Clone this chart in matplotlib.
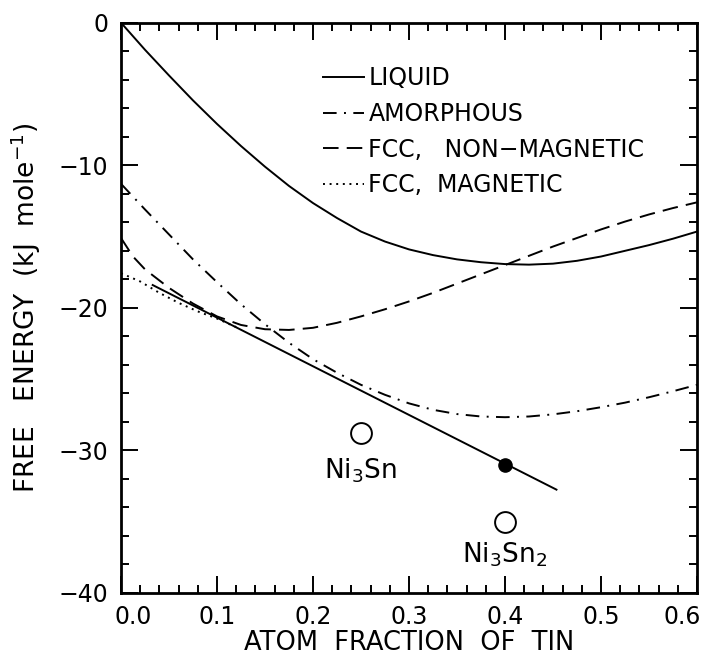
import matplotlib
matplotlib.use("Agg")
import matplotlib.pyplot as plt
from matplotlib.ticker import MultipleLocator
import matplotlib.transforms as mtransforms

plt.rcParams['font.family'] = ['DejaVu Sans']
plt.rcParams['mathtext.fontset'] = 'dejavusans'
plt.rcParams['mathtext.default'] = 'regular'

# ---- data ----
liquid_x = [0.0, 0.025, 0.05, 0.075, 0.1, 0.125, 0.15, 0.175, 0.2, 0.225, 0.25, 0.275, 0.3,
            0.325, 0.35, 0.375, 0.4, 0.425, 0.45, 0.475, 0.5, 0.525, 0.55, 0.575, 0.6]
liquid_y = [0.0, -1.9, -3.7, -5.45, -7.1, -8.65, -10.1, -11.45, -12.65, -13.7, -14.65, -15.35, -15.9,
            -16.3, -16.6, -16.8, -16.93, -16.97, -16.9, -16.7, -16.4, -16.0, -15.6, -15.15, -14.65]

amorph_x = [0.0, 0.025, 0.05, 0.075, 0.1, 0.125, 0.15, 0.175, 0.2, 0.225, 0.25, 0.275, 0.3,
            0.325, 0.35, 0.375, 0.4, 0.425, 0.45, 0.475, 0.5, 0.525, 0.55, 0.575, 0.6]
amorph_y = [-11.3, -13.1, -14.85, -16.6, -18.2, -19.75, -21.15, -22.45, -23.6, -24.55, -25.4, -26.1, -26.7,
            -27.15, -27.45, -27.62, -27.67, -27.62, -27.47, -27.25, -26.97, -26.65, -26.27, -25.85, -25.4]

fcc_nm_x = [0.0, 0.0125, 0.025, 0.05, 0.075, 0.1, 0.125, 0.15, 0.175, 0.2, 0.225, 0.25, 0.275, 0.3,
            0.325, 0.35, 0.375, 0.4, 0.425, 0.45, 0.475, 0.5, 0.525, 0.55, 0.575, 0.6]
fcc_nm_y = [-15.1, -16.4, -17.3, -18.6, -19.7, -20.6, -21.2, -21.5, -21.55, -21.4, -21.05, -20.6, -20.1, -19.55,
            -18.95, -18.3, -17.65, -17.0, -16.35, -15.7, -15.1, -14.5, -13.95, -13.45, -13.0, -12.6]

fcc_m_x = [0.0, 0.02, 0.04, 0.06, 0.08, 0.1, 0.12]
fcc_m_y = [-17.57, -18.15, -18.95, -19.65, -20.25, -20.75, -21.35]

tangent_x = [0.033, 0.4536]
tangent_y = [-18.4, -32.75]

solid_pt_x = [0.4]
solid_pt_y = [-31.0]

compound_names = [r'Ni$_3$Sn', r'Ni$_3$Sn$_2$']
compound_x = [0.25, 0.4]
compound_y = [-28.75, -35.0]
compound_label_y = [-31.4, -37.3]

legend_labels = ['LIQUID', 'AMORPHOUS', 'FCC,   NON\u2212MAGNETIC', 'FCC,  MAGNETIC']

xticks = [0.0, 0.1, 0.2, 0.3, 0.4, 0.5, 0.6]
yticks = [0, -10, -20, -30, -40]

# ---- figure ----
fig = plt.figure(figsize=(7.04, 6.61), dpi=100)
ax = fig.add_axes([121/704, 1-593/661, (697-121)/704, (593-22.7)/661])

lw = 1.4
l1, = ax.plot(liquid_x, liquid_y, color='black', lw=lw, ls='-')
l2, = ax.plot(amorph_x, amorph_y, color='black', lw=lw, ls=(0, (7.0, 3.8, 1.0, 3.8)))
l3, = ax.plot(fcc_nm_x, fcc_nm_y, color='black', lw=lw, ls=(0, (8.0, 4.2)))
l4, = ax.plot(fcc_m_x, fcc_m_y, color='black', lw=lw, ls=(0, (1.0, 2.4)))
ax.plot(tangent_x, tangent_y, color='black', lw=lw, ls='-')
ax.plot(solid_pt_x, solid_pt_y, 'o', color='black', ms=9.5)
ax.plot(compound_x, compound_y, 'o', mfc='white', mec='black', mew=1.4, ms=15)
for name, cx, cy in zip(compound_names, compound_x, compound_label_y):
    ax.text(cx, cy, name, fontsize=19, ha='center', va='center')

leg = ax.legend([l1, l2, l3, l4], legend_labels, loc='upper left',
                bbox_to_anchor=((323-121)/576, (593-66)/570.3),
                frameon=False, fontsize=17, handlelength=1.72,
                handletextpad=0.2, labelspacing=0.5, borderpad=0,
                borderaxespad=0)

ax.set_xlim(0, 0.6)
ax.set_ylim(-40, 0)
ax.set_xticks(xticks)
ax.set_yticks(yticks)
ax.xaxis.set_minor_locator(MultipleLocator(0.02))
ax.yaxis.set_minor_locator(MultipleLocator(2))
ax.set_xticklabels([f'{v:.1f}' for v in xticks])
ax.tick_params(which='both', direction='in', top=True, right=True, width=1.4,
               labelsize=17, color='black')
ax.tick_params(which='major', length=12, pad=9)
ax.tick_params(which='minor', length=5.8)
for s in ax.spines.values():
    s.set_linewidth(2.0)

ax.set_xlabel('ATOM  FRACTION  OF  TIN', fontsize=18.5)
ax.set_ylabel(r'FREE   ENERGY  (kJ  mole$^{-1}$)', fontsize=19)
ax.yaxis.set_label_coords((43-121)/576, 0.5)
ax.xaxis.set_label_coords(0.5, -(630-593)/570.3)

# shift the edge x tick labels inwards, as in the reference
xl = ax.get_xticklabels()
off_l = mtransforms.ScaledTranslation(12/100, 0, fig.dpi_scale_trans)
off_r = mtransforms.ScaledTranslation(-15/100, 0, fig.dpi_scale_trans)
xl[0].set_transform(xl[0].get_transform() + off_l)
xl[-1].set_transform(xl[-1].get_transform() + off_r)

fig.savefig('out.png', dpi=100)
